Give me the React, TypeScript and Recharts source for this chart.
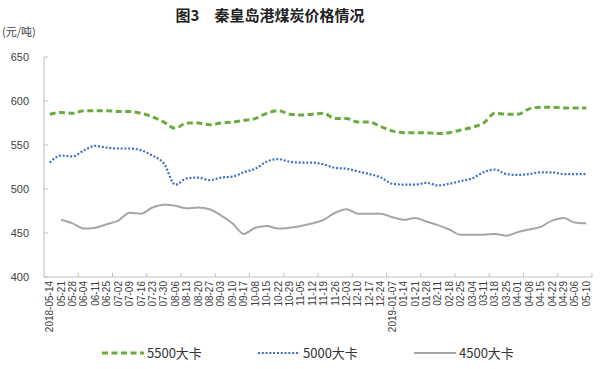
import React from 'react';
import { LineChart, Line, XAxis, YAxis } from 'recharts';

const dates = [
  '2018-05-14', '05-21', '05-28', '06-04', '06-11', '06-25', '07-02', '07-09', '07-16', '07-23', '07-30', '08-06',
  '08-13', '08-20', '08-27', '09-03', '09-10', '09-17', '10-08', '10-15', '10-22', '10-29', '11-05', '11-12',
  '11-19', '11-26', '12-03', '12-10', '12-17', '12-24', '2019-01-07', '01-14', '01-21', '01-28', '02-11', '02-18',
  '02-25', '03-04', '03-11', '03-18', '03-25', '04-01', '04-08', '04-15', '04-22', '04-29', '05-06', '05-10',
];

const p5500 = [
  585, 587, 586, 589, 589, 589, 588, 588, 586, 582, 576, 569, 575, 575, 573, 575, 576, 578, 580, 586, 589, 585, 584, 585,
  586, 580, 580, 576, 576, 571, 566, 564, 564, 564, 563, 564, 567, 570, 575, 586, 585, 585, 591, 593, 593, 592, 592, 592,
];

const p5000 = [
  530, 538, 537, 544, 549, 547, 546, 546, 544, 538, 529, 505, 512, 513, 510, 513, 514, 519, 523, 531, 534, 531, 530, 530,
  528, 524, 523, 520, 517, 513, 506, 505, 505, 507, 504, 506, 509, 512, 519, 522, 517, 516, 517, 519, 519, 517, 517, 517,
];

const p4500 = [
  null, 465, 461, 455, 456, 460, 464, 473, 472, 479, 482, 481, 478, 479, 477, 470, 461, 449, 456, 458, 455, 456, 458, 461,
  465, 473, 477, 472, 472, 472, 468, 465, 467, 463, 459, 454, 448, 448, 448, 449, 447, 451, 454, 457, 464, 467, 462, 461,
];

const yTicks = [400, 450, 500, 550, 600, 650];

const series = [
  { key: 'p5500', name: '5500大卡', color: '#6aab3f', width: 3, dash: '6 3.5' },
  { key: 'p5000', name: '5000大卡', color: '#3f6fc6', width: 2.2, dash: '2 1.8' },
  { key: 'p4500', name: '4500大卡', color: '#a6a6a6', width: 2, dash: undefined as string | undefined },
];

const data = dates.map((d, i) => ({ date: d, p5500: p5500[i], p5000: p5000[i], p4500: p4500[i] }));

const axisColor = '#bfbfbf';
const textColor = '#404040';

const XTick = (props: any) => {
  const { x, y, payload, index } = props;
  const off = payload.offset ?? 0;
  const last = index === dates.length - 1;
  return (
    <g>
      {index % 3 === 0 && index > 0 && (
        <line x1={x - off} x2={x - off} y1={y - 4} y2={y - 8} stroke={axisColor} />
      )}
      {last && <line x1={x + off} x2={x + off} y1={y - 4} y2={y - 8} stroke={axisColor} />}
      <text
        x={x}
        y={y}
        transform={`rotate(-90 ${x} ${y})`}
        textAnchor="end"
        dominantBaseline="central"
        fontSize={10}
        fontFamily="Liberation Sans, sans-serif"
        fill={textColor}
      >
        {payload.value}
      </text>
    </g>
  );
};

const LegendIcon = ({ color, width, dash }: { color: string; width: number; dash?: string }) => (
  <svg width={42} height={8} style={{ marginRight: 3 }}>
    <line x1={0} x2={42} y1={4} y2={4} stroke={color} strokeWidth={width} strokeDasharray={dash} />
  </svg>
);

export default function App() {
  return (
    <div style={{ position: 'absolute', left: 0, top: 0, width: 600, height: 369, background: '#fff' }}>
      <div
        style={{
          position: 'absolute', left: 0, width: 540, top: 4, textAlign: 'center',
          fontFamily: 'Noto Sans CJK SC, sans-serif', fontSize: 15, fontWeight: 700, color: '#222',
        }}
      >
        图3　秦皇岛港煤炭价格情况
      </div>
      <div
        style={{
          position: 'absolute', left: 2, top: 24, lineHeight: '14px',
          fontFamily: 'Noto Sans CJK SC, sans-serif', fontSize: 11, color: textColor,
        }}
      >
        (元/吨)
      </div>
      <LineChart width={600} height={369} data={data} margin={{ top: 57, right: 8, left: 0, bottom: 32 }}>
        <XAxis
          dataKey="date"
          scale="band"
          interval={0}
          height={60}
          tick={<XTick />}
          tickLine={false}
          tickSize={0}
          tickMargin={4}
          axisLine={{ stroke: axisColor }}
        />
        <YAxis
          width={44}
          domain={[400, 650]}
          ticks={yTicks}
          tickSize={-4}
          tickMargin={19}
          tickLine={{ stroke: axisColor }}
          axisLine={{ stroke: axisColor }}
          tick={{ fill: textColor, fontSize: 11, fontFamily: 'Liberation Sans, sans-serif' }}
        />
        {series.map((s) => (
          <Line
            key={s.key}
            type="monotone"
            dataKey={s.key}
            name={s.name}
            stroke={s.color}
            strokeWidth={s.width}
            strokeDasharray={s.dash}
            dot={false}
            isAnimationActive={false}
          />
        ))}
      </LineChart>
      <div style={{ position: 'absolute', left: 102, top: 343, display: 'flex' }}>
        {series.map((s) => (
          <div key={s.key} style={{ display: 'flex', alignItems: 'center', width: 156 }}>
            <LegendIcon color={s.color} width={s.width} dash={s.dash} />
            <span style={{ fontFamily: 'Noto Sans CJK SC, sans-serif', fontSize: 13, color: '#333' }}>{s.name}</span>
          </div>
        ))}
      </div>
    </div>
  );
}
